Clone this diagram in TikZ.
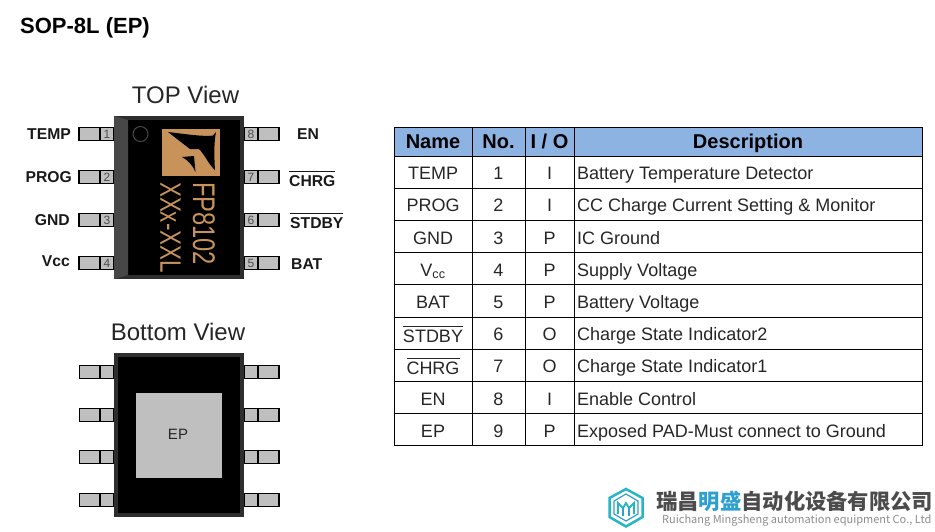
\documentclass[tikz,border=0pt]{standalone}
\usepackage{fontspec}
\setmainfont{Liberation Sans}
\newfontfamily\cjkfont{Noto Sans CJK SC}
\usetikzlibrary{positioning}
\definecolor{pkgframe}{HTML}{2E2E2E}
\definecolor{pkgbevel}{HTML}{474747}
\definecolor{pingray}{HTML}{BFBFBF}
\definecolor{markgold}{HTML}{C8935A}
\definecolor{headblue}{HTML}{8DB3E2}
\definecolor{logoteal}{HTML}{25B5C4}
\definecolor{logoblue}{HTML}{2F9FD0}
\newcommand{\fsz}[1]{\fontsize{#1}{#1}\selectfont}
\newcommand{\barname}[1]{\leavevmode\vbox{\hrule height 0.8pt \kern 3pt \hbox{#1}}}
\tikzset{
  pinlabel/.style = {font = \fsz{15.7}\bfseries, inner sep = 0pt, text = black!90},
  pinout/.style = {draw = black, fill = pingray, line width = 1.1pt, outer sep = 0pt, minimum width = 21pt, minimum height = 13.5pt, inner sep = 0pt},
  pinin/.style = {draw = black, fill = pingray, line width = 1.1pt, outer sep = 0pt, minimum width = 14pt, minimum height = 13.5pt, inner sep = 0pt, font = \fsz{12}, text = black!70},
  cell/.style = {draw = black, line width = 0.8pt, outer sep = 0pt, inner sep = 0pt, text height = 15pt, text depth = 0pt, font = \fsz{18}, text = black!85},
  barcell/.style = {cell, text height = 19pt},
  headcell/.style = {cell, fill = headblue, text height = 14.5pt, font = \fsz{20}\bfseries, text = black},
  desctext/.style = {font = \fsz{18}, text = black!85, anchor = west, inner sep = 0pt, text height = 15pt, text depth = 0pt}
}
\begin{document}
\begin{tikzpicture}[x = 1pt, y = -1pt]
  \useasboundingbox (0,0) rectangle (935,531);
  \node[anchor = west, inner sep = 0pt, font = \fsz{22}\bfseries] (title) at (20,28) {SOP-8L (EP)};

  % Top view
  \node[inner sep = 0pt, font = \fsz{24}, text = black!85] (toptitle) at (185.5,95) {TOP View};
  \node[pinout] (p1o) at (89.5,134) {};
  \node[pinout] (p2o) at (89.5,177) {};
  \node[pinout] (p3o) at (89.5,220) {};
  \node[pinout] (p4o) at (89.5,263) {};
  \node[pinin] (p1) at (107,134) {1};
  \node[pinin] (p2) at (107,177) {2};
  \node[pinin] (p3) at (107,220) {3};
  \node[pinin] (p4) at (107,263) {4};
  \node[pinout] (p8o) at (268.5,134) {};
  \node[pinout] (p7o) at (268.5,177) {};
  \node[pinout] (p6o) at (268.5,220) {};
  \node[pinout] (p5o) at (268.5,263) {};
  \node[pinin] (p8) at (251,134) {8};
  \node[pinin] (p7) at (251,177) {7};
  \node[pinin] (p6) at (251,220) {6};
  \node[pinin] (p5) at (251,263) {5};
  \node[draw = pkgframe, line width = 4pt, outer sep = 0pt, fill = black, minimum width = 126pt, minimum height = 159pt, inner sep = 0pt] (topbody) at (179,197.5) {};
  \fill[pkgbevel] (114,116) -- (128,120) -- (128,275) -- (114,279) -- cycle;
  \node[circle, draw = pkgbevel, line width = 1pt, minimum size = 15pt, inner sep = 0pt] (dot) at (140.5,134) {};
  \node[fill = markgold, outer sep = 0pt, minimum width = 58pt, minimum height = 47pt, inner sep = 0pt] (mark) at (191,152.5) {};
  \fill[black] (168,132) .. controls (185,134) and (205,137) .. (213,135.5) -- (216,132) .. controls (214,142) and (214,155) .. (215,170) .. controls (209,165) and (205,155) .. (199,149) -- (190,149) -- cycle;
  \fill[black] (182,157) -- (194,156) -- (195.5,172) .. controls (193,166) and (189,161) .. cycle;
  \node[rotate = -90, inner sep = 0pt, font = \fsz{23.7}, text = markgold] (partno) at (204,223.5) {\scalebox{1}[1.32]{FP8102}};
  \node[rotate = -90, inner sep = 0pt, font = \fsz{22.4}, text = markgold] (lotno) at (170.5,227.5) {\scalebox{1}[1.32]{XXx-XXL}};

  % Pin names
  \node[pinlabel, anchor = east] (lbltemp) at (71,134) {TEMP};
  \node[pinlabel, anchor = east] (lblprog) at (72,177) {PROG};
  \node[pinlabel, anchor = east] (lblgnd) at (70,220) {GND};
  \node[pinlabel, anchor = east] (lblvcc) at (70,261) {Vcc};
  \node[pinlabel, anchor = west] (lblen) at (297,134) {EN};
  \node[pinlabel, anchor = base west] (lblchrg) at (289,186) {\barname{CHRG}};
  \node[pinlabel, anchor = base west] (lblstdby) at (290,228) {\barname{STDBY}};
  \node[pinlabel, anchor = west] (lblbat) at (291,264) {BAT};

  % Bottom view
  \node[inner sep = 0pt, font = \fsz{24}, text = black!85] (bottomtitle) at (178,332) {Bottom View};
  \node[pinout] (b1o) at (90,372) {};
  \node[pinout] (b2o) at (90,415) {};
  \node[pinout] (b3o) at (90,457) {};
  \node[pinout] (b4o) at (90,500) {};
  \node[pinin] (b1) at (107,372) {};
  \node[pinin] (b2) at (107,415) {};
  \node[pinin] (b3) at (107,457) {};
  \node[pinin] (b4) at (107,500) {};
  \node[pinout] (b8o) at (268.5,372) {};
  \node[pinout] (b7o) at (268.5,415) {};
  \node[pinout] (b6o) at (268.5,457) {};
  \node[pinout] (b5o) at (268.5,500) {};
  \node[pinin] (b8) at (251,372) {};
  \node[pinin] (b7) at (251,415) {};
  \node[pinin] (b6) at (251,457) {};
  \node[pinin] (b5) at (251,500) {};
  \node[draw = pkgframe, line width = 4pt, outer sep = 0pt, fill = black, minimum width = 126pt, minimum height = 160pt, inner sep = 0pt] (bottombody) at (179,435) {};
  \node[fill = pingray, minimum width = 86pt, minimum height = 85pt, inner sep = 0pt] (pad) at (179,435.5) {};
  \node[inner sep = 0pt, font = \fsz{15}, text = black!85] (padname) at (178,434) {EP};

  % Table
  \node[headcell, minimum width = 78pt, minimum height = 29pt] (hname) at (433,141.5) {Name};
  \node[headcell, minimum width = 53pt, minimum height = 29pt] (hno) at (498.5,141.5) {No.};
  \node[headcell, minimum width = 49pt, minimum height = 29pt] (hio) at (549.5,141.5) {I / O};
  \node[headcell, minimum width = 348pt, minimum height = 29pt] (hdesc) at (748,141.5) {Description};

  \node[cell, minimum width = 78pt, minimum height = 32.2pt, anchor = north west] (n1) at (hname.south west) {TEMP};
  \node[cell, minimum width = 78pt, minimum height = 32.2pt, below = 0pt of n1] (n2) {PROG};
  \node[cell, minimum width = 78pt, minimum height = 32.2pt, below = 0pt of n2] (n3) {GND};
  \node[cell, minimum width = 78pt, minimum height = 32.2pt, below = 0pt of n3] (n4) {V\textsubscript{cc}};
  \node[cell, minimum width = 78pt, minimum height = 32.2pt, below = 0pt of n4] (n5) {BAT};
  \node[barcell, minimum width = 78pt, minimum height = 32.2pt, below = 0pt of n5] (n6) {\barname{STDBY}};
  \node[barcell, minimum width = 78pt, minimum height = 32.2pt, below = 0pt of n6] (n7) {\barname{CHRG}};
  \node[cell, minimum width = 78pt, minimum height = 32.2pt, below = 0pt of n7] (n8) {EN};
  \node[cell, minimum width = 78pt, minimum height = 32.2pt, below = 0pt of n8] (n9) {EP};

  \node[cell, minimum width = 53pt, minimum height = 32.2pt, right = 0pt of n1] (c1) {1};
  \node[cell, minimum width = 53pt, minimum height = 32.2pt, right = 0pt of n2] (c2) {2};
  \node[cell, minimum width = 53pt, minimum height = 32.2pt, right = 0pt of n3] (c3) {3};
  \node[cell, minimum width = 53pt, minimum height = 32.2pt, right = 0pt of n4] (c4) {4};
  \node[cell, minimum width = 53pt, minimum height = 32.2pt, right = 0pt of n5] (c5) {5};
  \node[cell, minimum width = 53pt, minimum height = 32.2pt, right = 0pt of n6] (c6) {6};
  \node[cell, minimum width = 53pt, minimum height = 32.2pt, right = 0pt of n7] (c7) {7};
  \node[cell, minimum width = 53pt, minimum height = 32.2pt, right = 0pt of n8] (c8) {8};
  \node[cell, minimum width = 53pt, minimum height = 32.2pt, right = 0pt of n9] (c9) {9};

  \node[cell, minimum width = 49pt, minimum height = 32.2pt, right = 0pt of c1] (d1) {I};
  \node[cell, minimum width = 49pt, minimum height = 32.2pt, right = 0pt of c2] (d2) {I};
  \node[cell, minimum width = 49pt, minimum height = 32.2pt, right = 0pt of c3] (d3) {P};
  \node[cell, minimum width = 49pt, minimum height = 32.2pt, right = 0pt of c4] (d4) {P};
  \node[cell, minimum width = 49pt, minimum height = 32.2pt, right = 0pt of c5] (d5) {P};
  \node[cell, minimum width = 49pt, minimum height = 32.2pt, right = 0pt of c6] (d6) {O};
  \node[cell, minimum width = 49pt, minimum height = 32.2pt, right = 0pt of c7] (d7) {O};
  \node[cell, minimum width = 49pt, minimum height = 32.2pt, right = 0pt of c8] (d8) {I};
  \node[cell, minimum width = 49pt, minimum height = 32.2pt, right = 0pt of c9] (d9) {P};

  \node[cell, minimum width = 348pt, minimum height = 32.2pt, right = 0pt of d1] (e1) {};
  \node[cell, minimum width = 348pt, minimum height = 32.2pt, right = 0pt of d2] (e2) {};
  \node[cell, minimum width = 348pt, minimum height = 32.2pt, right = 0pt of d3] (e3) {};
  \node[cell, minimum width = 348pt, minimum height = 32.2pt, right = 0pt of d4] (e4) {};
  \node[cell, minimum width = 348pt, minimum height = 32.2pt, right = 0pt of d5] (e5) {};
  \node[cell, minimum width = 348pt, minimum height = 32.2pt, right = 0pt of d6] (e6) {};
  \node[cell, minimum width = 348pt, minimum height = 32.2pt, right = 0pt of d7] (e7) {};
  \node[cell, minimum width = 348pt, minimum height = 32.2pt, right = 0pt of d8] (e8) {};
  \node[cell, minimum width = 348pt, minimum height = 32.2pt, right = 0pt of d9] (e9) {};

  \node[desctext] (t1) at ([xshift = 3pt]e1.west) {Battery Temperature Detector};
  \node[desctext] (t2) at ([xshift = 3pt]e2.west) {CC Charge Current Setting \& Monitor};
  \node[desctext] (t3) at ([xshift = 3pt]e3.west) {IC Ground};
  \node[desctext] (t4) at ([xshift = 3pt]e4.west) {Supply Voltage};
  \node[desctext] (t5) at ([xshift = 3pt]e5.west) {Battery Voltage};
  \node[desctext] (t6) at ([xshift = 3pt]e6.west) {Charge State Indicator2};
  \node[desctext] (t7) at ([xshift = 3pt]e7.west) {Charge State Indicator1};
  \node[desctext] (t8) at ([xshift = 3pt]e8.west) {Enable Control};
  \node[desctext] (t9) at ([xshift = 3pt]e9.west) {Exposed PAD-Must connect to Ground};

  % Company mark
  \node[inner sep = 0pt, anchor = west, font = \cjkfont\fsz{21.3}\bfseries, text = black!70] (company) at (656,501) {瑞昌\textcolor{logoblue}{明盛}自动化设备有限公司};
  \node[inner sep = 0pt, anchor = west, font = \cjkfont\fsz{11}, text = black!45] (companyen) at (662,520) {Ruichang Mingsheng automation equipment Co., Ltd};
  \draw[logoteal, line width = 2.5pt] (626,489) -- (642.5,498) -- (642.5,517) -- (626,526.5) -- (609.5,517) -- (609.5,498) -- cycle;
  \draw[logoblue, line width = 1.2pt] (626,494) -- (638,501) -- (638,514) -- (626,521) -- (614,514) -- (614,501) -- cycle;
  \draw[logoteal, line width = 1.8pt] (618,514) -- (618,503) -- (623,508) -- (626,503) -- (629,508) -- (634,503) -- (634,514);
  \draw[logoblue, line width = 1.5pt] (623,508) -- (623,516) (629,508) -- (629,516);
\end{tikzpicture}
\end{document}
